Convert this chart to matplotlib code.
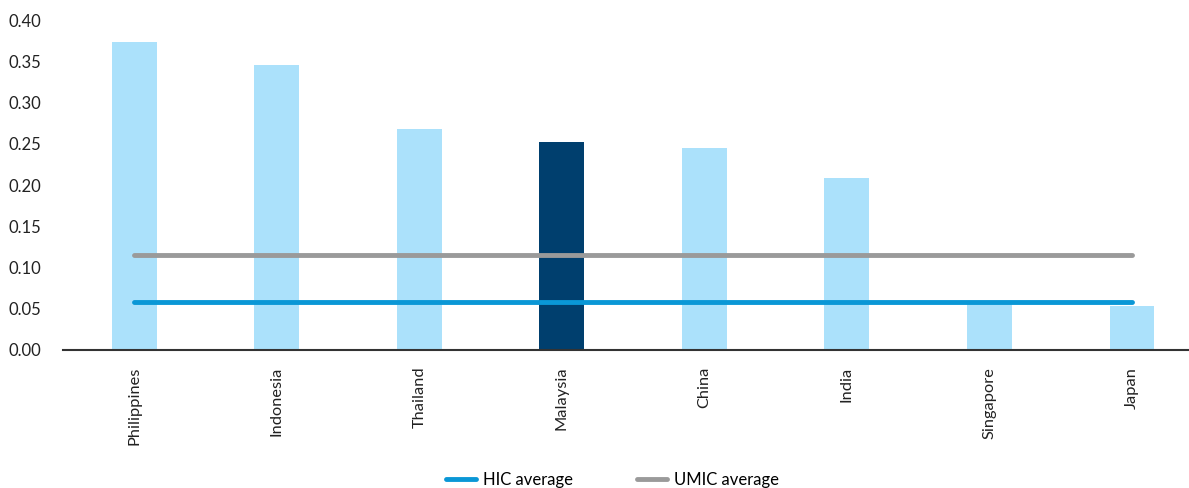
import matplotlib
matplotlib.use("Agg")
import matplotlib.pyplot as plt

countries = ["Philippines", "Indonesia", "Thailand", "Malaysia", "China", "India", "Singapore", "Japan"]
values = [0.374, 0.345, 0.268, 0.252, 0.245, 0.208, 0.058, 0.053]
hic_avg = 0.058
umic_avg = 0.115
yticks = [0.00, 0.05, 0.10, 0.15, 0.20, 0.25, 0.30, 0.35, 0.40]

plt.rcParams['font.family'] = ['Lato', 'DejaVu Sans']

fig = plt.figure(figsize=(11.89, 4.88), dpi=100)
ax = fig.add_axes([0.053, 0.2828, 0.947, 0.676])

x = list(range(len(countries)))
colors = ["#abe1fb"] * len(countries)
colors[countries.index("Malaysia")] = "#003f6e"
ax.bar(x, values, width=0.315, color=colors, zorder=2)

ax.plot([x[0], x[-1]], [umic_avg, umic_avg], color="#9a9a9a", lw=3.5, solid_capstyle="round", zorder=3, label="UMIC average")
ax.plot([x[0], x[-1]], [hic_avg, hic_avg], color="#0a97d6", lw=3.5, solid_capstyle="round", zorder=3, label="HIC average")

ax.set_xlim(-0.5, 7.4)
ax.set_ylim(0, 0.40)
ax.set_yticks(yticks)
ax.set_yticklabels([f"{v:.2f}" for v in yticks], fontsize=12, color="#222222", ha="left")
ax.tick_params(axis="y", length=0, pad=39.5)
ax.set_xticks(x)
ax.set_xticklabels(countries, rotation=90, fontsize=11.8, color="#222222")
ax.tick_params(axis="x", length=0, pad=12)

for s in ["top", "right", "left"]:
    ax.spines[s].set_visible(False)
ax.spines["bottom"].set_color("#333333")
ax.spines["bottom"].set_linewidth(1.5)

handles, labels = ax.get_legend_handles_labels()
order = [1, 0]
leg = fig.legend([handles[i] for i in order], [labels[i] for i in order], loc="lower center",
                 bbox_to_anchor=(0.515, -0.03), ncol=2, frameon=False, fontsize=12,
                 handlelength=1.8, columnspacing=3.8, handletextpad=0.45)

fig.savefig("out.png", dpi=100)
